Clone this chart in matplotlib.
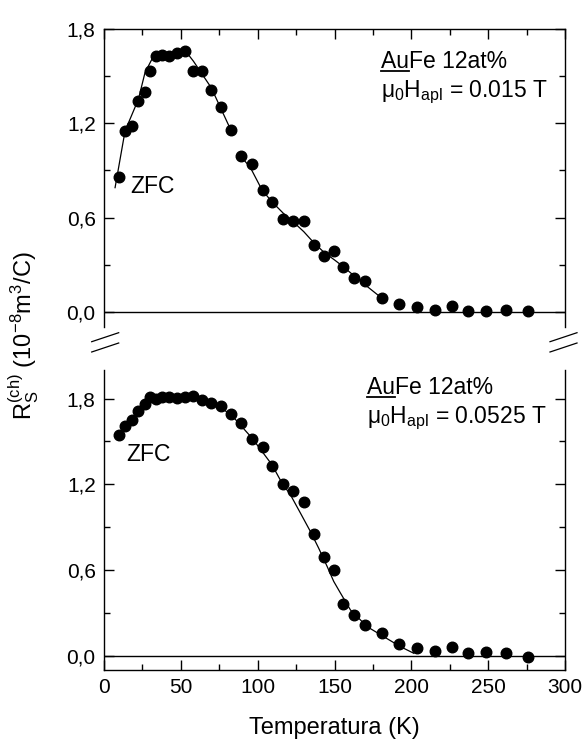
import numpy as np
import matplotlib
matplotlib.use("Agg")
import matplotlib.pyplot as plt
from matplotlib.lines import Line2D

plt.rcParams['font.family'] = "Liberation Sans"
plt.rcParams['mathtext.fontset'] = "custom"
plt.rcParams['mathtext.rm'] = "Liberation Sans"
plt.rcParams['mathtext.it'] = "Liberation Sans:italic"
plt.rcParams['mathtext.bf'] = "Liberation Sans:bold"
plt.rcParams['mathtext.default'] = "regular"

# data
temp_k = [10.0, 13.7, 18.0, 22.4, 26.7, 30.0, 33.7, 37.6, 42.4, 47.8, 52.8, 57.8, 63.7,
          69.8, 76.1, 82.4, 89.1, 96.3, 103.2, 109.5, 116.5, 123.2, 130.2, 136.9, 143.0,
          149.5, 155.6, 162.8, 169.9, 181.0, 192.1, 203.4, 215.6, 226.2, 236.8, 248.4,
          261.4, 276.2]
rs_015 = [0.86, 1.15, 1.185, 1.34, 1.40, 1.53, 1.627, 1.637, 1.627, 1.648, 1.663, 1.532,
          1.532, 1.411, 1.306, 1.160, 0.989, 0.940, 0.775, 0.699, 0.592, 0.581, 0.577,
          0.423, 0.357, 0.385, 0.285, 0.216, 0.195, 0.085, 0.047, 0.028, 0.011, 0.034,
          0.003, 0.003, 0.011, 0.003]
rs_0525 = [1.543, 1.606, 1.653, 1.716, 1.765, 1.809, 1.800, 1.809, 1.811, 1.804, 1.811,
           1.821, 1.793, 1.770, 1.746, 1.693, 1.630, 1.520, 1.459, 1.330, 1.204, 1.150,
           1.076, 0.852, 0.691, 0.598, 0.360, 0.283, 0.215, 0.161, 0.082, 0.056, 0.033,
           0.059, 0.021, 0.023, 0.017, -0.007]

# guide lines (nan = gap in the drawn curve)
fit_015_t = [7.2, 13.7, 22.4, 26.7, 32.2, 43.0, 52.8, 58.2, 69.8, 77.8, 82.4, np.nan,
             88.7, 95.2, 102.8, 109.3, 116.9, 123.4, 130.0, 136.5, 143.0, 150.0, 156.0,
             165.0, 181.0]
fit_015_r = [0.79, 1.151, 1.353, 1.523, 1.627, 1.641, 1.663, 1.595, 1.426, 1.257, 1.160,
             np.nan, 0.993, 0.919, 0.776, 0.70, 0.625, 0.57, 0.51, 0.44, 0.38, 0.33, 0.285,
             0.21, 0.085]
fit_0525_t = [57.0, 65.0, 75.0, 85.0, 96.3, 109.3, 115.8, 121.3, 127.8, 134.3, 139.7,
              145.2, 149.5, 153.8, 160.4, 171.3, 182.1, 193.0, 201.6]
fit_0525_r = [1.82, 1.80, 1.75, 1.66, 1.524, 1.337, 1.209, 1.127, 0.999, 0.870, 0.753,
              0.625, 0.52, 0.44, 0.32, 0.203, 0.133, 0.063, 0.017]

y_ticks = [0.0, 0.6, 1.2, 1.8]
y_tick_labels = ["0,0", "0,6", "1,2", "1,8"]
x_ticks = [0, 50, 100, 150, 200, 250, 300]

W, H = 586, 745
fig = plt.figure(figsize=(W / 100, H / 100), dpi=100)
ax_top = fig.add_axes([104 / W, 1 - 326.7 / H, 461 / W, 297.7 / H])
ax_bot = fig.add_axes([104 / W, 1 - 670 / H, 461 / W, 300 / H])

panels = [
    (ax_top, rs_015, fit_015_t, fit_015_r, (-0.095, 1.8), "0.015 T", 180, 1.595, 1.399, (31.3, 0.797)),
    (ax_bot, rs_0525, fit_0525_t, fit_0525_r, (-0.1, 2.0), "0.0525 T", 171.4, 1.877, 1.660, (29.2, 1.407)),
]

for ax, rs, ft, fr, ylim, field, tx, ty1, ty2, zfc in panels:
    ax.plot(ft, fr, color="black", linewidth=0.9, zorder=2)
    ax.plot(temp_k, rs, "o", color="black", markersize=7.6, zorder=3)
    ax.axhline(0, color="black", linewidth=1.0, zorder=1)
    ax.set_xlim(0, 300)
    ax.set_ylim(*ylim)
    ax.set_yticks(y_ticks)
    ax.set_yticklabels(y_tick_labels)
    ax.set_yticks(np.arange(0.3, 1.81, 0.6), minor=True)
    ax.set_xticks(x_ticks)
    ax.set_xticks(np.arange(25, 300, 50), minor=True)
    ax.tick_params(which="both", direction="in", width=1.0, labelsize=15, left=True, right=True)
    ax.tick_params(which="major", length=7)
    ax.tick_params(which="minor", length=4)
    ax.tick_params(axis="y", pad=6)
    ax.tick_params(axis="x", pad=6)
    for sp in ax.spines.values():
        sp.set_linewidth(1.0)

    ax.text(zfc[0], zfc[1], "ZFC", fontsize=16.5, ha="center", va="center")
    ax.text(tx, ty1, "AuFe 12at%", fontsize=16.5, ha="left", va="center")
    ax.text(tx, ty2, r"$\mu_0H_{apl}$ = " + field, fontsize=16.5, ha="left", va="center")

ax_top.spines['bottom'].set_visible(False)
ax_top.tick_params(axis="x", which="both", top=True, bottom=False, labelbottom=False)
ax_bot.spines['top'].set_visible(False)
ax_bot.tick_params(axis="x", which="both", top=False, bottom=True)
ax_bot.set_xlabel("Temperatura (K)", fontsize=17, labelpad=14)

fig.text(24 / W, 1 - 336 / H, r"$R_S^{(ch)}$ (10$^{-8}$m$^3$/C)", fontsize=17,
         rotation=90, ha="center", va="center")

# axis break marks
for x0 in (91.7, 550.0):
    for y0 in (341.7, 352.0):
        fig.add_artist(Line2D([x0 / W, (x0 + 27) / W], [1 - y0 / H, 1 - (y0 - 9) / H],
                              transform=fig.transFigure, color="black", linewidth=0.9))

# underline "Au"
fig.canvas.draw()
renderer = fig.canvas.get_renderer()
for ax, tx, ty1 in ((ax_top, 180, 1.595), (ax_bot, 171.4, 1.877)):
    tmp = ax.text(tx, ty1, "Au", fontsize=16.5, ha="left", va="center")
    bb = tmp.get_window_extent(renderer)
    tmp.remove()
    inv = fig.transFigure.inverted()
    (a0, b0), (a1, _) = inv.transform([(bb.x0, bb.y0 + 2), (bb.x1, bb.y0 + 2)])
    fig.add_artist(Line2D([a0, a1], [b0, b0], transform=fig.transFigure,
                          color="black", linewidth=1.3))

fig.savefig("out.png", dpi=100)
